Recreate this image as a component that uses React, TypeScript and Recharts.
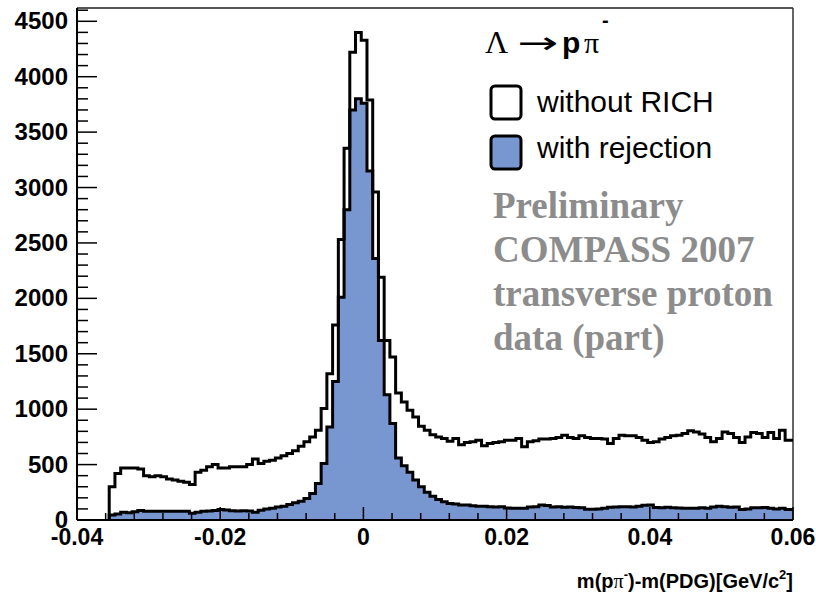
import { ComposedChart, Area, Line, XAxis, YAxis, ReferenceLine } from 'recharts';

// bin layout of the two mass histograms
const binStart = -0.0355;
const binWidth = 0.0008;

// entries per bin, "without RICH"
const withoutRich = [
  300, 420, 470, 470, 470, 460, 400, 390, 400, 390,
  370, 360, 350, 340, 320, 430, 450, 480, 500, 470,
  470, 480, 480, 480, 500, 550, 510, 530, 540, 560,
  580, 600, 625, 665, 705, 750, 810, 1005, 1320, 1760,
  2530, 3355, 4220, 4400, 4330, 3790, 2960, 2190, 1620, 1470,
  1145, 1065, 990, 930, 845, 810, 770, 750, 735, 710,
  735, 680, 700, 705, 720, 670, 690, 700, 705, 720,
  720, 735, 660, 705, 715, 730, 730, 735, 745, 765,
  745, 735, 760, 745, 735, 735, 730, 690, 735, 765,
  760, 760, 745, 720, 700, 705, 730, 745, 760, 765,
  780, 805, 795, 775, 745, 705, 735, 795, 780, 745,
  700, 750, 790, 780, 745, 790, 735, 810, 720, 720,
];

// entries per bin, "with rejection"
const withRejection = [
  45, 55, 70, 66, 75, 85, 80, 80, 80, 80,
  80, 80, 78, 80, 60, 70, 80, 82, 85, 95,
  90, 84, 82, 84, 82, 70, 88, 100, 105, 118,
  125, 140, 155, 170, 195, 240, 330, 510, 840, 1250,
  2010, 2800, 3700, 3800, 3760, 3150, 2360, 1620, 1130, 870,
  560, 490, 430, 360, 300, 250, 215, 185, 165, 150,
  145, 135, 135, 128, 125, 125, 120, 118, 120, 108,
  105, 105, 105, 118, 120, 135, 130, 118, 120, 115,
  118, 112, 110, 98, 96, 100, 105, 115, 118, 120,
  120, 118, 125, 132, 135, 112, 110, 115, 110, 108,
  105, 105, 105, 110, 105, 118, 125, 120, 115, 118,
  95, 100, 110, 110, 112, 105, 100, 105, 95, 95,
];

const xMin = -0.04;
const xMax = 0.06;
const yMax = 4620;
const xMajor = [-0.04, -0.02, 0, 0.02, 0.04, 0.06];
const xMinorStep = 0.004;
const yMajorStep = 500;
const yMinorStep = 100;

const BLUE = '#7896d0';
const SANS = "'Liberation Sans', Arial, Helvetica, sans-serif";
const SERIF = "'Liberation Serif', 'Times New Roman', serif";

const xTicks: number[] = [];
for (let v = xMin; v <= xMax + 1e-9; v += xMinorStep) xTicks.push(Math.round(v * 1000) / 1000);
const yTicks: number[] = [];
for (let v = 0; v <= yMax; v += yMinorStep) yTicks.push(v);

const last = withoutRich.length - 1;
const rows = [
  { x: binStart, a: 0, b: 0 },
  ...withoutRich.map((a, i) => ({ x: +(binStart + i * binWidth).toFixed(5), a, b: withRejection[i] })),
  { x: xMax, a: withoutRich[last], b: withRejection[last] },
];

const fmtX = (v: number) => (v === 0 ? '0' : v.toFixed(2));

const XTick = ({ x, y, payload }: any) => {
  const v = payload.value as number;
  const major = xMajor.some(m => Math.abs(m - v) < 1e-6);
  return (
    <g>
      <line x1={x} x2={x} y1={y} y2={y - (major ? 13 : 7)} stroke="#000" strokeWidth={1.5} />
      {major && (
        <text x={x} y={y + 25} textAnchor="middle" fontFamily={SANS} fontWeight="bold" fontSize={23} fill="#000">
          {fmtX(v)}
        </text>
      )}
    </g>
  );
};

const YTick = ({ x, y, payload }: any) => {
  const v = payload.value as number;
  const major = v % yMajorStep === 0;
  return (
    <g>
      <line x1={x} x2={x + (major ? 20 : 11)} y1={y} y2={y} stroke="#000" strokeWidth={1.5} />
      {major && (
        <text x={x - 9} y={y + 8} textAnchor="end" fontFamily={SANS} fontWeight="bold" fontSize={24} fill="#000">
          {v}
        </text>
      )}
    </g>
  );
};

export default function App() {
  return (
    <div style={{ position: 'absolute', left: 0, top: 0, width: 816, height: 592, background: '#fff' }}>
      <ComposedChart width={816} height={592} data={rows} margin={{ top: 8, right: 23, bottom: 0, left: 0 }}>
        <XAxis
          dataKey="x"
          type="number"
          domain={[xMin, xMax]}
          ticks={xTicks}
          interval={0}
          tickSize={0}
          tickMargin={0}
          tickLine={false}
          height={72}
          axisLine={{ stroke: '#000', strokeWidth: 2 }}
          tick={<XTick />}
        />
        <YAxis
          type="number"
          domain={[0, yMax]}
          ticks={yTicks}
          interval={0}
          tickSize={0}
          tickMargin={0}
          tickLine={false}
          width={77}
          axisLine={{ stroke: '#000', strokeWidth: 2 }}
          tick={<YTick />}
        />
        <ReferenceLine y={yMax} stroke="#555" strokeWidth={2} />
        <ReferenceLine x={xMax} stroke="#333" strokeWidth={1.5} />
        <Line dataKey="a" type="stepAfter" stroke="#000" strokeWidth={3} dot={false} isAnimationActive={false} />
        <Area
          dataKey="b"
          type="stepAfter"
          stroke="#000"
          strokeWidth={3}
          fill={BLUE}
          fillOpacity={1}
          dot={false}
          isAnimationActive={false}
        />
      </ComposedChart>

      <svg width={816} height={592} style={{ position: 'absolute', left: 0, top: 0, pointerEvents: 'none' }}>
        {/* legend title */}
        <text x={485} y={53} fontFamily={SERIF} fontSize={32} fill="#000">Λ</text>
        <text x={517} y={53} fontFamily="'DejaVu Sans', sans-serif" fontSize={30} fill="#000" textLength={41} lengthAdjust="spacingAndGlyphs">→</text>
        <text x={562} y={53} fontFamily={SANS} fontWeight="bold" fontSize={30} fill="#000">p</text>
        <text x={584} y={53} fontFamily={SERIF} fontSize={30} fill="#000">π</text>
        <text x={602} y={27} fontFamily={SANS} fontWeight="bold" fontSize={20} fill="#000">-</text>

        {/* legend entries */}
        <rect x={491} y={86} width={30} height={33} rx={4} fill="#fff" stroke="#000" strokeWidth={3} />
        <text x={537} y={112} fontFamily={SANS} fontSize={30} fill="#000">without RICH</text>
        <rect x={491} y={136} width={30} height={33} rx={4} fill={BLUE} stroke="#000" strokeWidth={3} />
        <text x={537} y={158} fontFamily={SANS} fontSize={30} fill="#000">with rejection</text>

        {/* preliminary label */}
        <g fontFamily={SERIF} fontWeight="bold" fontSize={37} fill="#8c8c8c">
          <text x={493} y={218}>Preliminary</text>
          <text x={493} y={262}>COMPASS 2007</text>
          <text x={493} y={306}>transverse proton</text>
          <text x={493} y={350}>data (part)</text>
        </g>

        {/* x axis title */}
        <text x={793} y={588} textAnchor="end" fontFamily={SANS} fontWeight="bold" fontSize={20} fill="#000">
          m(p<tspan fontFamily={SERIF} fontWeight="normal">π</tspan>
          <tspan dy={-9} fontSize={13}>-</tspan>
          <tspan dy={9}>)-m(PDG)[GeV/c</tspan>
          <tspan dy={-9} fontSize={13}>2</tspan>
          <tspan dy={9}>]</tspan>
        </text>
      </svg>
    </div>
  );
}
